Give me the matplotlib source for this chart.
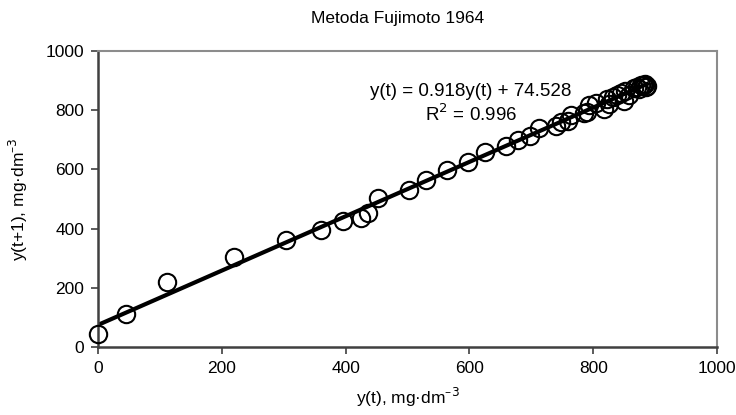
import matplotlib
matplotlib.use("Agg")
import matplotlib.pyplot as plt
import numpy as np

plt.rcParams['font.family'] = ['Liberation Sans', 'DejaVu Sans']

# Time series of concentration y(t), mg/dm3
series = [0, 45, 111, 220, 304, 361, 395, 425, 436, 453, 503, 530, 564, 598,
          625, 659, 678, 698, 712, 740, 748, 760, 764, 785, 790, 793, 818,
          805, 826, 822, 838, 850, 832, 845, 858, 852, 866, 874, 870, 880,
          885, 878, 884, 887, 882, 886]
x_vals = series[:-1]
y_vals = series[1:]

slope = 0.918
intercept = 74.528
r2 = 0.996

title = "Metoda Fujimoto 1964"
xlabel = "y(t), mg\u00b7dm$^{\u20133}$"
ylabel = "y(t+1), mg\u00b7dm$^{\u20133}$"
xticks = [0, 200, 400, 600, 800, 1000]
yticks = [0, 200, 400, 600, 800, 1000]

fig = plt.figure(figsize=(7.36, 4.15), dpi=100)
ax = fig.add_axes([0.1332, 0.1639, 0.9742 - 0.1332, 0.8771 - 0.1639])

ax.plot(x_vals, y_vals, linestyle='none', marker='o', markersize=12.5,
        markerfacecolor='none', markeredgecolor='black', markeredgewidth=1.5,
        clip_on=False, zorder=3)

xl = np.array([0, max(x_vals)])
ax.plot(xl, slope * xl + intercept, color='black', linewidth=3, zorder=2)

ax.set_xlim(0, 1000)
ax.set_ylim(0, 1000)
ax.set_xticks(xticks)
ax.set_yticks(yticks)
ax.tick_params(direction='out', length=5, width=1.2, color='#404040',
               labelsize=12.5, pad=5)

for s in ['left', 'bottom']:
    ax.spines[s].set_color('#404040')
    ax.spines[s].set_linewidth(1.8)
for s in ['top', 'right']:
    ax.spines[s].set_color('#8c8c8c')
    ax.spines[s].set_linewidth(1.5)

ax.set_xlabel(xlabel, fontsize=12.5, labelpad=7)
ax.set_ylabel(ylabel, fontsize=12.5, labelpad=11)
fig.text(398 / 736, 1 - 19 / 415, title, ha='center', va='center', fontsize=12.5)

ax.text(602, 863, f"y(t) = {slope}y(t) + {intercept}", ha='center', va='center',
        fontsize=13.5)
ax.text(602, 785, f"R$^2$ = {r2}", ha='center', va='center', fontsize=13.5)

fig.savefig("out.png", dpi=100, facecolor='white')
